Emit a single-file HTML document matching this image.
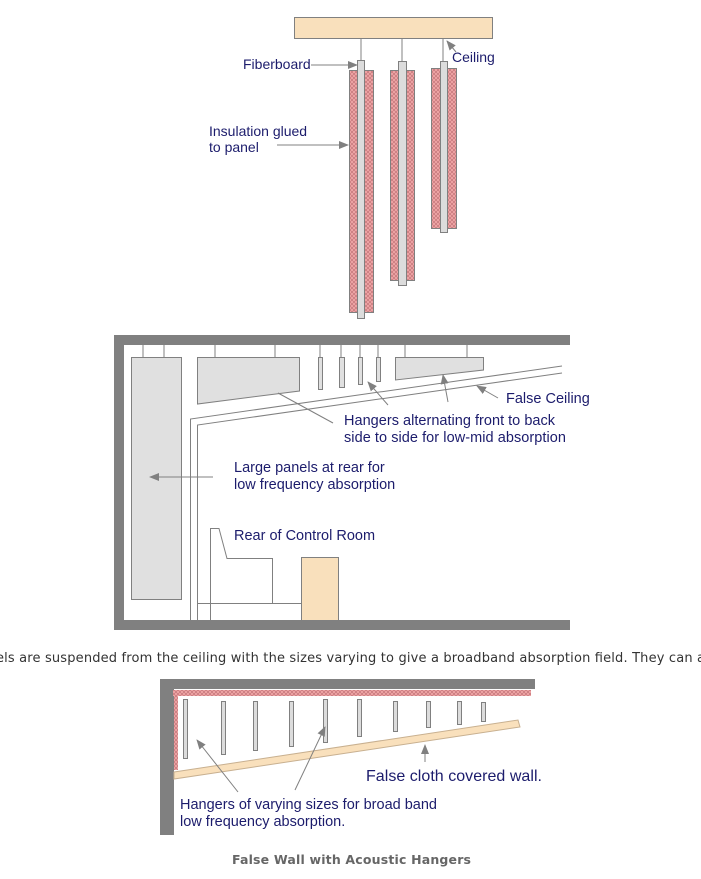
<!DOCTYPE html>
<html><head><style>
body{margin:0;background:#fff;}
svg{display:block;}
text{font-family:"Liberation Sans",Arial,sans-serif;font-size:14.5px;fill:#1c1c6c;}
</style></head><body>
<svg width="701" height="879" viewBox="0 0 701 879" xmlns="http://www.w3.org/2000/svg">
<defs>
<pattern id="hatch" width="4" height="4" patternUnits="userSpaceOnUse">
<rect width="4" height="4" fill="#f3aaaa"/>
<path d="M0,0 L4,4 M4,0 L0,4" stroke="#c87a7e" stroke-width="0.8"/>
</pattern>
<marker id="ar" markerWidth="10" markerHeight="8" refX="9" refY="4" orient="auto" markerUnits="userSpaceOnUse">
<path d="M0,0 L10,4 L0,8 z" fill="#808080"/>
</marker>
</defs>
<g stroke="#808080" stroke-width="1">
<rect x="294.5" y="17.5" width="198" height="21" fill="#f9e0bc"/>
<line x1="361" y1="38" x2="361" y2="60"/>
<line x1="402" y1="38" x2="402" y2="61"/>
<line x1="443" y1="38" x2="443" y2="61"/>
<rect x="349.5" y="70.5" width="24" height="242" fill="url(#hatch)"/>
<rect x="357.5" y="60.5" width="7" height="258" fill="#dcdcdc"/>
<rect x="390.5" y="70.5" width="24" height="210" fill="url(#hatch)"/>
<rect x="398.5" y="61.5" width="8" height="224" fill="#dcdcdc"/>
<rect x="431.5" y="68.5" width="25" height="160" fill="url(#hatch)"/>
<rect x="440.5" y="61.5" width="7" height="171" fill="#dcdcdc"/>
<line x1="311" y1="65" x2="357" y2="65" marker-end="url(#ar)"/>
<line x1="456" y1="52" x2="447" y2="41" marker-end="url(#ar)"/>
<line x1="277" y1="145" x2="348" y2="145" marker-end="url(#ar)"/>

<rect x="114" y="335" width="456" height="10" fill="#808080" stroke="none"/>
<rect x="114" y="335" width="10" height="295" fill="#808080" stroke="none"/>
<rect x="114" y="620" width="456" height="10" fill="#808080" stroke="none"/>
<line x1="143" y1="345" x2="143" y2="367"/>
<line x1="164" y1="345" x2="164" y2="367"/>
<rect x="131.5" y="357.5" width="50" height="242" fill="#e0e0e0"/>
<line x1="215" y1="345" x2="215" y2="357"/>
<line x1="275" y1="345" x2="275" y2="357"/>
<polygon points="197.5,357.5 299.5,357.5 299.5,391 197.5,404" fill="#e0e0e0"/>
<line x1="320" y1="345" x2="320" y2="357"/>
<line x1="341" y1="345" x2="341" y2="357"/>
<line x1="360" y1="345" x2="360" y2="357"/>
<line x1="378" y1="345" x2="378" y2="357"/>
<rect x="318.5" y="357.5" width="4" height="32" fill="#e0e0e0"/>
<rect x="339.5" y="357.5" width="5" height="30" fill="#e0e0e0"/>
<rect x="358.5" y="357.5" width="4" height="27" fill="#e0e0e0"/>
<rect x="376.5" y="357.5" width="4" height="24" fill="#e0e0e0"/>
<line x1="405" y1="345" x2="405" y2="357"/>
<line x1="467" y1="345" x2="467" y2="357"/>
<polygon points="395.5,357.5 483.5,357.5 483.5,370 395.5,380" fill="#e0e0e0"/>
<polyline points="190.5,620 190.5,419 562,366" fill="none"/>
<polyline points="197.5,620 197.5,425 562,373" fill="none"/>
<line x1="197" y1="603.5" x2="301" y2="603.5"/>
<polyline points="210.5,620 210.5,528.5 219,528.5 227,558.5 272.5,558.5 272.5,603" fill="none"/>
<rect x="301.5" y="557.5" width="37" height="63" fill="#f9e0bc"/>
<line x1="213" y1="477" x2="150" y2="477" marker-end="url(#ar)"/>
<line x1="388" y1="405" x2="368" y2="382" marker-end="url(#ar)"/>
<line x1="333" y1="423" x2="278" y2="393"/>
<line x1="448" y1="402" x2="443" y2="375" marker-end="url(#ar)"/>
<line x1="498" y1="398" x2="477" y2="386" marker-end="url(#ar)"/>

<rect x="160" y="679" width="375" height="10" fill="#808080" stroke="none"/>
<rect x="160" y="679" width="14" height="156" fill="#808080" stroke="none"/>
<rect x="173" y="690" width="358" height="6" fill="url(#hatch)" stroke="none"/>
<rect x="174" y="690" width="4" height="80" fill="url(#hatch)" stroke="none"/>
<rect x="183.5" y="699.5" width="4" height="59" fill="#dcdcdc"/>
<rect x="221.5" y="701.5" width="4" height="53" fill="#dcdcdc"/>
<rect x="253.5" y="701.5" width="4" height="49" fill="#dcdcdc"/>
<rect x="289.5" y="701.5" width="4" height="45" fill="#dcdcdc"/>
<rect x="323.5" y="699.5" width="4" height="43" fill="#dcdcdc"/>
<rect x="357.5" y="699.5" width="4" height="37" fill="#dcdcdc"/>
<rect x="393.5" y="701.5" width="4" height="30" fill="#dcdcdc"/>
<rect x="426.5" y="701.5" width="4" height="26" fill="#dcdcdc"/>
<rect x="457.5" y="701.5" width="4" height="23" fill="#dcdcdc"/>
<rect x="481.5" y="702.5" width="4" height="19" fill="#dcdcdc"/>
<polygon points="174,772 518,720 520,727 174,779" fill="#f9e0bc" stroke="#c8b090"/>
<line x1="238" y1="792" x2="197" y2="740" marker-end="url(#ar)"/>
<line x1="295" y1="790" x2="325" y2="727" marker-end="url(#ar)"/>
<line x1="425" y1="762" x2="425" y2="745" marker-end="url(#ar)"/>
</g>

<text x="243" y="69" style="font-size:14px">Fiberboard</text>
<text x="452" y="62" style="font-size:14px">Ceiling</text>
<text x="209" y="136" style="font-size:14px">Insulation glued</text>
<text x="209" y="152" style="font-size:14px">to panel</text>
<text x="506" y="403">False Ceiling</text>
<text x="344" y="425" textLength="211">Hangers alternating front to back</text>
<text x="344" y="442" textLength="222">side to side for low-mid absorption</text>
<text x="234" y="472">Large panels at rear for</text>
<text x="234" y="489">low frequency absorption</text>
<text x="234" y="540">Rear of Control Room</text>
<text x="366" y="781" textLength="176" style="font-size:16px">False cloth covered wall.</text>
<text x="180" y="809" textLength="257">Hangers of varying sizes for broad band</text>
<text x="180" y="826">low frequency absorption.</text>
<text x="-4" y="662" textLength="709" style="font-family:'DejaVu Sans',Verdana,sans-serif;font-size:13px;fill:#333">els are suspended from the ceiling with the sizes varying to give a broadband absorption field. They can a</text>
<text x="232" y="864" textLength="239" style="font-family:'DejaVu Sans',Verdana,sans-serif;font-size:12.5px;font-weight:bold;fill:#666">False Wall with Acoustic Hangers</text>
</svg>
</body></html>
